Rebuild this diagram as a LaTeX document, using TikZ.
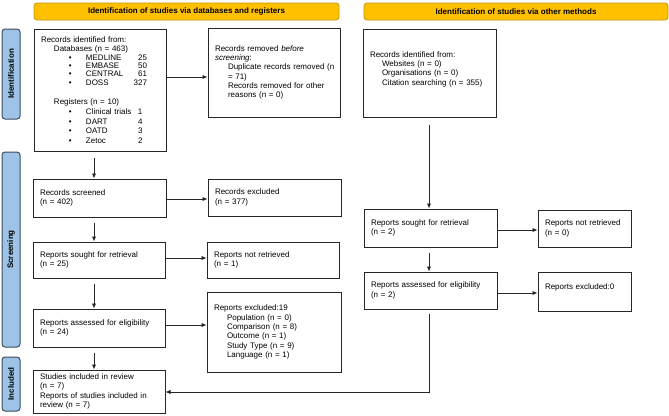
\documentclass[tikz,border=0pt]{standalone}
\usepackage{fontspec}
\setmainfont{Liberation Sans}
\usetikzlibrary{arrows.meta}
\definecolor{bannerfill}{HTML}{FFC000}
\definecolor{bannerdraw}{HTML}{C49500}
\definecolor{sidefill}{HTML}{9DC3E6}
\definecolor{sidedraw}{HTML}{3E4C5E}
\newcommand{\dbl}[2]{\makebox[45pt][l]{\hspace*{28pt}\textbullet}\makebox[45pt][l]{#1}\makebox[16pt][r]{#2}}
\newcommand{\rgl}[2]{\makebox[45pt][l]{\hspace*{28pt}\textbullet}\makebox[52pt][l]{#1}#2}
\newcommand{\ind}{\hspace*{13pt}}
\tikzset{
 box/.style={draw=black!85, line width=1pt, inner xsep=7pt, inner ysep=0pt, align=left, font=\fontsize{8}{9.3}\selectfont},
 banner/.style={draw=bannerdraw, fill=bannerfill, rounded corners=3pt, line width=0.8pt, minimum height=17pt, inner sep=0pt, font=\bfseries\fontsize{8}{9.3}\selectfont},
 side/.style={draw=sidedraw, fill=sidefill, rounded corners=3pt, line width=1pt, minimum height=18pt, inner sep=0pt, rotate=90, font=\bfseries\fontsize{8}{9.3}\selectfont},
 arr/.style={draw=black!85, line width=0.9pt, -{Latex[length=5pt,width=4.5pt]}},
}
\begin{document}
\begin{tikzpicture}[x=1pt,y=-1pt]
\useasboundingbox (0,0) rectangle (669,415);
% banners
\node[banner, minimum width=305pt] (ban1) at (186.5,11.5) {Identification of studies via databases and registers};
\node[banner, minimum width=304pt] (ban2) at (516,11.5) {Identification of studies via other methods};
% side labels
\node[side, minimum width=90pt] (sid1) at (11,74) {Identification};
\node[side, minimum width=195pt] (sid2) at (11,249.5) {Screening};
\node[side, minimum width=54pt] (sid3) at (11,384) {Included};
% left column
\node[box, text width=118pt, minimum height=122pt] (rid) at (100,90) {Records identified from:\\
\ind Databases (n = 463)\\[-0.5pt]
\dbl{MEDLINE}{25}\\[-1pt]
\dbl{EMBASE}{50}\\[-1pt]
\dbl{CENTRAL}{61}\\[-0.5pt]
\dbl{DOSS}{327}\\[10pt]
\ind Registers (n = 10)\\
\rgl{Clinical trials}{1}\\[0.5pt]
\rgl{DART}{4}\\[0.5pt]
\rgl{OATD}{3}\\[0.5pt]
\rgl{Zetoc}{2}};
\node[box, text width=118pt, minimum height=89pt] (rrem) at (274,72.5) {Records removed \textit{before}\\
\textit{screening}:\\
\ind\mbox{Duplicate records removed (n}\\
\ind = 71)\\
\ind Records removed for other\\
\ind reasons (n = 0)};
\node[box, text width=119pt, minimum height=38pt] (rscr) at (99.5,198) {Records screened\\(n = 402)};
\node[box, text width=119pt, minimum height=37pt] (rexc) at (274.5,197.5) {Records excluded\\(n = 377)};
\node[box, text width=118pt, minimum height=36pt] (rsou) at (99,260) {Reports sought for retrieval\\(n = 25)};
\node[box, text width=118pt, minimum height=36pt] (rnot) at (273,260) {Reports not retrieved\\(n = 1)};
\node[box, text width=118pt, minimum height=38pt] (rass) at (99,328) {Reports assessed for eligibility\\(n = 24)};
\node[box, text width=120pt, minimum height=80pt] (rex19) at (274,332) {Reports excluded:19\\
\ind Population (n = 0)\\
\ind Comparison (n = 8)\\
\ind Outcome (n = 1)\\
\ind Study Type (n = 9)\\
\ind Language (n = 1)};
\node[box, text width=118pt, minimum height=43pt] (sinc) at (99,391.5) {Studies included in review\\(n = 7)\\Reports of studies included in\\review (n = 7)};
% right column
\node[box, text width=119pt, minimum height=88pt] (oid) at (429.5,73) {Records identified from:\\
\hspace*{12pt}Websites (n = 0)\\
\hspace*{12pt}Organisations (n = 0)\\
\hspace*{12pt}Citation searching (n = 355)\\ \mbox{}};
\node[box, text width=119pt, minimum height=38pt] (osou) at (430.5,228) {Reports sought for retrieval\\(n = 2)};
\node[box, text width=79pt, minimum height=37pt] (onot) at (584.5,228.5) {Reports not retrieved\\(n = 0)};
\node[box, text width=119pt, minimum height=37pt] (oass) at (430.5,290.5) {Reports assessed for eligibility\\(n = 2)};
\node[box, text width=79pt, minimum height=39pt] (oex0) at (584.5,291.5) {Reports excluded:0\\ \mbox{}};
% helper coordinates
\coordinate (xl) at (94,0);
\coordinate (xr) at (429,0);
\coordinate (y1) at (0,77);
\coordinate (y2) at (0,199);
\coordinate (y3) at (0,258);
\coordinate (y4) at (0,325);
\coordinate (y5) at (0,230);
\coordinate (y6) at (0,293);
\coordinate (y7) at (0,392);
% arrows left
\draw[arr] (rid.east |- y1) -- (rrem.west |- y1);
\draw[arr, shorten <=6pt] (rid.south -| xl) -- (rscr.north -| xl);
\draw[arr] (rscr.east |- y2) -- (rexc.west |- y2);
\draw[arr, shorten <=5pt] (rscr.south -| xl) -- (rsou.north -| xl);
\draw[arr] (rsou.east |- y3) -- (rnot.west |- y3);
\draw[arr, shorten <=5pt] (rsou.south -| xl) -- (rass.north -| xl);
\draw[arr] (rass.east |- y4) -- (rex19.west |- y4);
\draw[arr, shorten <=5pt] (rass.south -| xl) -- (sinc.north -| xl);
% arrows right
\draw[arr, shorten <=7pt] (oid.south -| xr) -- (osou.north -| xr);
\draw[arr] (osou.east |- y5) -- (onot.west |- y5);
\draw[arr, shorten <=5pt] (osou.south -| xr) -- (oass.north -| xr);
\draw[arr] (oass.east |- y6) -- (oex0.west |- y6);
\draw[arr, shorten <=4pt] (oass.south -| xr) -- (xr |- y7) -- (sinc.east |- y7);
\end{tikzpicture}
\end{document}
